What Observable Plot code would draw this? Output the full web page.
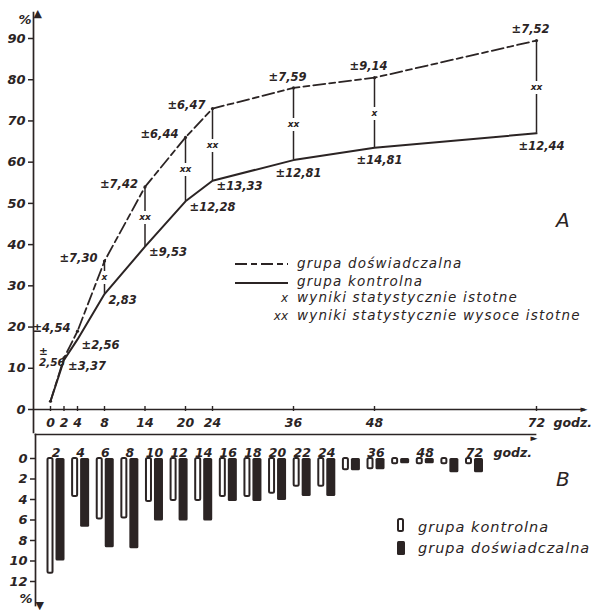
<!DOCTYPE html>
<html>
<head>
<meta charset="utf-8">
<script src="https://cdn.jsdelivr.net/npm/d3@7"></script>
<script src="https://cdn.jsdelivr.net/npm/@observablehq/plot@0.6"></script>
<style>
  body { margin: 0; background: #fff; }
  #wrap { position: relative; width: 591px; height: 613px; overflow: hidden; background: #fff; }
  #wrap svg { position: absolute; left: 0; max-width: none; }
</style>
</head>
<body>
<div id="wrap"></div>
<script>
// ---------- Panel A data ----------
const hoursA = [0, 2, 4, 8, 14, 20, 24, 36, 48, 72];
const experimentalA = [2, 12.5, 19, 36, 54, 66, 73, 78, 80.5, 89.5];
const controlA = [2, 12, 17, 28, 39.5, 50.5, 55.5, 60.5, 63.5, 67];
const experimentalErr = ["", "±\n2,56", "±4,54", "±7,30", "±7,42", "±6,44", "±6,47", "±7,59", "±9,14", "±7,52"];
const controlErr = ["", "±3,37", "±2,56", "2,83", "±9,53", "±12,28", "±13,33", "±12,81", "±14,81", "±12,44"];
const sigHours = [8, 14, 20, 24, 36, 48, 72];
const sigMarks = ["x", "xx", "xx", "xx", "xx", "x", "xx"];
const yTicksA = [0, 10, 20, 30, 40, 50, 60, 70, 80, 90];
const xTicksA = [0, 2, 4, 8, 14, 20, 24, 36, 48, 72];

// ---------- Panel B data ----------
const hoursB = ["2", "4", "6", "8", "10", "12", "14", "16", "18", "20", "22", "24", "30", "36", "42", "48", "60", "72"];
const controlB = [11.2, 3.7, 5.9, 5.8, 4.2, 4.1, 4.1, 3.7, 3.7, 3.4, 2.7, 2.7, 1.1, 1.0, 0.5, 0.5, 0.5, 0.5];
const experimentalB = [10.0, 6.7, 8.7, 8.8, 6.1, 6.1, 6.1, 4.2, 4.2, 4.1, 3.7, 3.7, 1.2, 1.1, 0.5, 0.5, 1.4, 1.4];
const xLabelsB = ["2", "4", "6", "8", "10", "12", "14", "16", "18", "20", "22", "24", "36", "48", "72"];
const yTicksB = [0, 2, 4, 6, 8, 10, 12];

// ---------- styling ----------
const ink = "#2b2424";
const dashPattern = "12,4,6,4";
const font = "DejaVu Sans";

const rowsA = hoursA.map((h, i) => ({h, exp: experimentalA[i], ctl: controlA[i], expErr: experimentalErr[i], ctlErr: controlErr[i]}));
const sigRows = sigHours.map((h, i) => {
  const j = hoursA.indexOf(h);
  return {h, top: experimentalA[j], bottom: controlA[j], mark: sigMarks[i]};
});
const rowsB = hoursB.map((h, i) => ({h, ctl: controlB[i], exp: experimentalB[i]}));

const baseStyle = {fontFamily: font, fontStyle: "italic", fontWeight: "bold", color: ink, background: "transparent", overflow: "visible"};

const chartA = Plot.plot({
  width: 591, height: 432,
  marginLeft: 33, marginRight: 6, marginTop: 12, marginBottom: 0,
  style: baseStyle,
  x: {type: "linear", domain: [0, 72], range: [50, 536], axis: null},
  y: {domain: [0, 90], range: [409, 38], label: null},
  marks: [
    Plot.frame({anchor: "left", stroke: ink, strokeWidth: 1.7}),
    Plot.ruleY([0], {stroke: ink, strokeWidth: 1.7}),
    Plot.text(["▲"], {frameAnchor: "top-left", text: d => d, lineAnchor: "top", fontSize: 11, dy: -3, fill: ink}),
    Plot.text(["►"], {y: () => 0, frameAnchor: "right", text: d => d, textAnchor: "end", fontSize: 9, dx: 2, fill: ink}),
    Plot.text(["%"], {frameAnchor: "top-left", text: d => d, fontSize: 13, dx: -15, dy: 2, fill: ink}),
    Plot.axisY(yTicksA, {anchor: "left", tickSize: 5, tickPadding: 3, fontSize: 13, label: null, strokeWidth: 1.5}),
    Plot.ruleX(xTicksA, {x: d => d, y1: () => 0, y2: () => 0, insetTop: -3, insetBottom: -2, stroke: ink, strokeWidth: 1.4}),
    Plot.text(xTicksA, {x: d => d, y: () => 0, text: d => String(d), dy: 13, fontSize: 12.5, fill: ink}),
    Plot.text(["godz."], {y: () => 0, frameAnchor: "right", text: d => d, textAnchor: "start", dx: -32, dy: 13, fontSize: 12.5, fill: ink}),
    // significance rules
    Plot.ruleX(sigRows, {x: "h", y1: "top", y2: "bottom", stroke: ink, strokeWidth: 1.5}),
    Plot.text(sigRows, {x: "h", y: d => (d.top + d.bottom) / 2, text: "mark", fontSize: 9, fill: ink, stroke: "white", strokeWidth: 8, paintOrder: "stroke"}),
    // lines
    Plot.line(rowsA, {x: "h", y: "exp", stroke: ink, strokeWidth: 1.8, strokeDasharray: dashPattern}),
    Plot.line(rowsA, {x: "h", y: "ctl", stroke: ink, strokeWidth: 2}),
    Plot.dot(rowsA, {x: "h", y: "exp", r: 1.6, fill: ink}),
    // error labels: experimental
    Plot.text(rowsA, {filter: d => d.h === 2, x: "h", y: "exp", text: "expErr", textAnchor: "start", dx: -25, dy: -1, fontSize: 10.5, lineHeight: 1.1, fill: ink}),
    Plot.text(rowsA, {filter: d => d.h > 2 && d.h <= 24, x: "h", y: "exp", text: "expErr", textAnchor: "end", dx: -7, dy: -3, fontSize: 11.5, fill: ink}),
    Plot.text(rowsA, {filter: d => d.h > 24, x: "h", y: "exp", text: "expErr", textAnchor: "middle", dx: -6, dy: -11, fontSize: 11.5, fill: ink}),
    // error labels: control
    Plot.text(rowsA, {filter: d => d.h > 0 && d.h <= 24, x: "h", y: "ctl", text: "ctlErr", textAnchor: "start", dx: 4, dy: 6, fontSize: 11.5, fill: ink}),
    Plot.text(rowsA, {filter: d => d.h > 24, x: "h", y: "ctl", text: "ctlErr", textAnchor: "middle", dx: 5, dy: 13, fontSize: 11.5, fill: ink})
  ]
});
chartA.style.top = "0px";

const chartB = Plot.plot({
  width: 591, height: 181,
  marginLeft: 35, marginRight: 56, marginTop: 2, marginBottom: 8,
  style: baseStyle,
  x: {type: "band", domain: hoursB, range: [43.2, 486.3], padding: 0, round: false, axis: null},
  y: {domain: [0, 12], range: [26, 149], label: null},
  marks: [
    Plot.frame({anchor: "left", stroke: ink, strokeWidth: 1.7}),
    Plot.frame({anchor: "top", stroke: ink, strokeWidth: 1.7}),
    Plot.text(["▼"], {frameAnchor: "bottom-left", text: d => d, lineAnchor: "bottom", fontSize: 11, dy: 3, fill: ink}),
    Plot.text(["►"], {frameAnchor: "top-right", text: d => d, textAnchor: "end", fontSize: 9, dx: 2, fill: ink}),
    Plot.text(["%"], {frameAnchor: "bottom-left", text: d => d, fontSize: 13, dx: -16, dy: -3, fill: ink}),
    Plot.axisY(yTicksB, {anchor: "left", tickSize: 5, tickPadding: 3, fontSize: 13, label: null, strokeWidth: 1.5}),
    Plot.text(xLabelsB, {x: d => d, frameAnchor: "top", text: d => d, dy: 14, fontSize: 12.5, fill: ink}),
    Plot.text(["godz."], {frameAnchor: "top-right", text: d => d, textAnchor: "start", dx: -42, dy: 14, fontSize: 12.5, fill: ink}),
    Plot.barY(rowsB, {x: "h", y: "ctl", fill: "white", stroke: ink, strokeWidth: 2, insetLeft: 4.3, insetRight: 15.3, rx: 1.5}),
    Plot.barY(rowsB, {x: "h", y: "exp", fill: ink, insetLeft: 12.3, insetRight: 3.3, rx: 1.5})
  ]
});
chartB.style.top = "432px";

const wrap = document.getElementById("wrap");
wrap.appendChild(chartA);
wrap.appendChild(chartB);

// ---------- legends and panel letters ----------
const ns = "http://www.w3.org/2000/svg";
const leg = document.createElementNS(ns, "svg");
leg.setAttribute("width", 591);
leg.setAttribute("height", 613);
leg.style.top = "0px";
leg.style.pointerEvents = "none";
leg.innerHTML = `
<g font-family="${font}" font-style="italic" fill="${ink}">
  <line x1="235" x2="288" y1="264" y2="264" stroke="${ink}" stroke-width="1.8" stroke-dasharray="${dashPattern}"/>
  <text x="297" y="268" font-size="13.5" letter-spacing="1.2">grupa doświadczalna</text>
  <line x1="235" x2="288" y1="283" y2="283" stroke="${ink}" stroke-width="2"/>
  <text x="297" y="286" font-size="13.5" letter-spacing="1.2">grupa kontrolna</text>
  <text x="288" y="302" font-size="12" text-anchor="end">x</text>
  <text x="297" y="302" font-size="13.5" letter-spacing="1.2">wyniki statystycznie istotne</text>
  <text x="288" y="320" font-size="12" text-anchor="end">xx</text>
  <text x="297" y="320" font-size="13.5" letter-spacing="1.2">wyniki statystycznie wysoce istotne</text>
  <text x="556" y="227" font-size="20">A</text>
  <text x="556" y="486" font-size="20">B</text>
  <rect x="398" y="519" width="5" height="12" rx="1.5" fill="white" stroke="${ink}" stroke-width="2"/>
  <text x="418" y="532" font-size="14.5" letter-spacing="1">grupa kontrolna</text>
  <rect x="397" y="541" width="8" height="14" rx="1.5" fill="${ink}"/>
  <text x="418" y="553" font-size="14.5" letter-spacing="1">grupa doświadczalna</text>
</g>`;
wrap.appendChild(leg);
</script>
</body>
</html>
